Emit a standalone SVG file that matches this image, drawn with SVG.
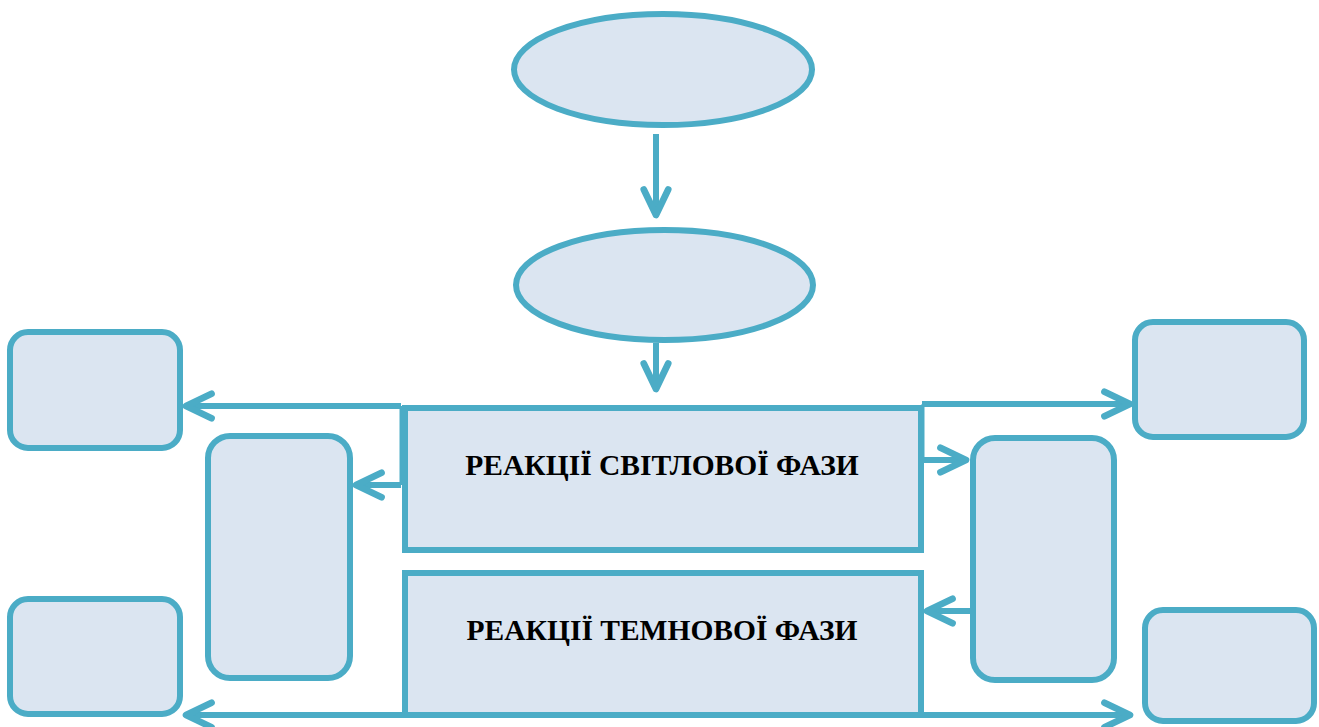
<svg xmlns="http://www.w3.org/2000/svg" width="1319" height="727" viewBox="0 0 1319 727">
  <style>
    .node { fill: #DBE5F1; stroke: #4BACC6; stroke-width: 6; }
    .conn { fill: none; stroke: #4BACC6; stroke-width: 6; }
    .label { font-family: 'Liberation Serif', 'Times New Roman', serif; font-weight: 700; font-size: 29.5px; fill: #000; text-anchor: middle; }
  </style>
  <defs>
    <marker id="arrow" markerUnits="userSpaceOnUse" markerWidth="40" markerHeight="40" viewBox="-30 -16 36 32" refX="0" refY="0" orient="auto">
      <path d="M-23,-11 L0,0 L-23,11" fill="none" stroke="#4BACC6" stroke-width="6" stroke-linecap="round" stroke-linejoin="round"/>
    </marker>
  </defs>

  <rect width="1319" height="727" fill="#FFFFFF"/>

  <!-- connectors -->
  <g id="connectors">
    <path class="conn" d="M656,134 V215" marker-end="url(#arrow)"/>
    <path class="conn" d="M656,343 V389" marker-end="url(#arrow)"/>
    <path class="conn" d="M401,406 V485" style="stroke-width:3"/>
    <path class="conn" d="M401,406 H186" marker-end="url(#arrow)"/>
    <path class="conn" d="M401,485 H356" marker-end="url(#arrow)"/>
    <path class="conn" d="M923,404 V460" style="stroke-width:3"/>
    <path class="conn" d="M922,404 H1130" marker-end="url(#arrow)"/>
    <path class="conn" d="M922,460 H966" marker-end="url(#arrow)"/>
    <path class="conn" d="M973,611 H927" marker-end="url(#arrow)"/>
    <path class="conn" d="M406,715 H186" marker-end="url(#arrow)"/>
    <path class="conn" d="M920,715 H1130" marker-end="url(#arrow)"/>
  </g>

  <!-- ellipses -->
  <g id="oval-top">
    <ellipse class="node" cx="663" cy="69.5" rx="149" ry="55.5"/>
  </g>
  <g id="oval-middle">
    <ellipse class="node" cx="664.5" cy="285" rx="148.5" ry="55"/>
  </g>

  <!-- central phase boxes -->
  <g id="light-phase">
    <rect class="node" x="405" y="408" width="516" height="142"/>
    <text class="label" x="662" y="475">РЕАКЦІЇ СВІТЛОВОЇ ФАЗИ</text>
  </g>
  <g id="dark-phase">
    <rect class="node" x="405" y="573" width="516" height="142"/>
    <text class="label" x="662" y="640">РЕАКЦІЇ ТЕМНОВОЇ ФАЗИ</text>
  </g>

  <!-- side boxes -->
  <g id="box-left-top">
    <rect class="node" x="10" y="332" width="170" height="116" rx="18"/>
  </g>
  <g id="box-left-tall">
    <rect class="node" x="208" y="436" width="142" height="242" rx="22"/>
  </g>
  <g id="box-left-bottom">
    <rect class="node" x="10" y="599" width="170" height="115" rx="18"/>
  </g>
  <g id="box-right-top">
    <rect class="node" x="1135" y="322" width="169" height="115" rx="18"/>
  </g>
  <g id="box-right-tall">
    <rect class="node" x="973" y="438" width="141" height="242" rx="22"/>
  </g>
  <g id="box-right-bottom">
    <rect class="node" x="1145" y="610" width="169" height="111" rx="18"/>
  </g>
</svg>
